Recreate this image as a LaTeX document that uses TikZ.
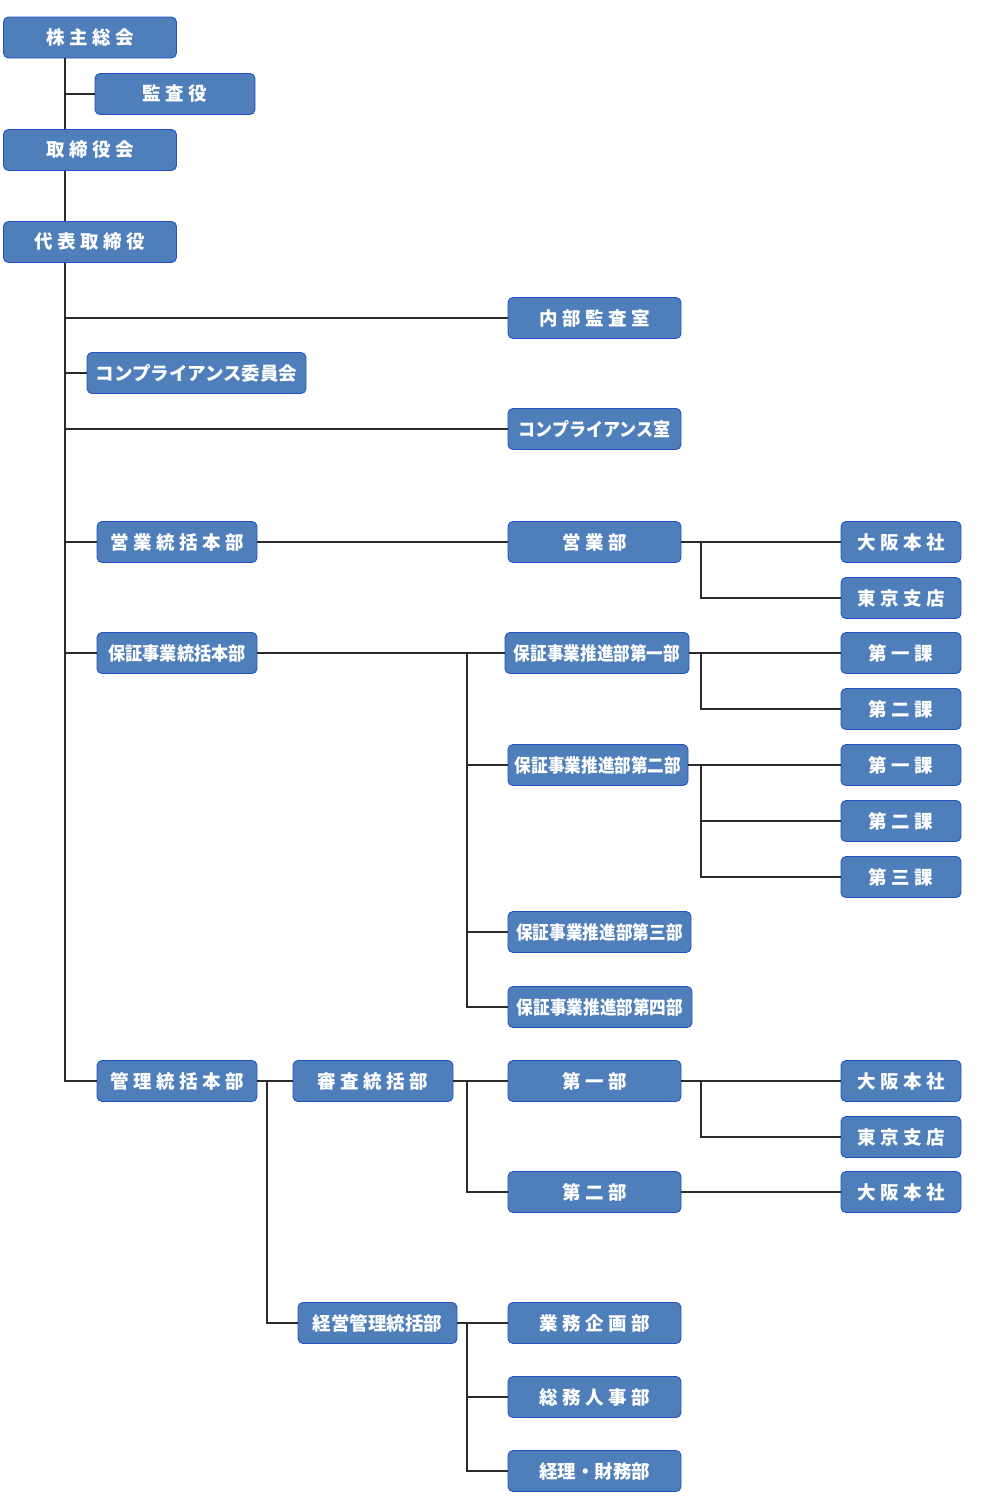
\documentclass[tikz,border=0pt]{standalone}
\usepackage{fontspec}
\usepackage{graphicx}
\newfontfamily\jp{Noto Sans CJK JP}
\definecolor{boxfill}{HTML}{4F7FBB}
\definecolor{boxline}{HTML}{2450C4}
\definecolor{conn}{HTML}{2B2B2B}
\newlength\lsgap
\let\lsend\relax
\def\ls#1#2{\setlength\lsgap{#1}\lsi#2\lsend}
\def\lsi#1#2{#1\ifx#2\lsend\else\hskip\lsgap\relax\expandafter\lsi\expandafter#2\fi}
\begin{document}
\begin{tikzpicture}[x=1pt,y=-1pt,
  box/.style={draw=boxline, fill=boxfill, rounded corners=5pt, line width=0.9pt,
    minimum height=41pt, inner sep=0pt, text=white,
    font=\jp\bfseries\fontsize{18.5}{20}\selectfont},
  wA/.style={minimum width=173pt},
  wB/.style={minimum width=160pt},
  wC/.style={minimum width=120pt},
  conline/.style={draw=conn, line width=1.1pt}]
\useasboundingbox (0,0) rectangle (1000,1507);
\coordinate (tx) at (65,0);
\coordinate (bA) at (701,0);
\coordinate (bB) at (467,0);
\coordinate (bC) at (267,0);
% nodes
\node[box,wA] (kabu) at (90,37.5) {\ls{4.5pt}{株主総会}};
\node[box,wB] (kansa) at (175,94) {\ls{4.5pt}{監査役}};
\node[box,wA] (tori) at (90,150) {\ls{4.5pt}{取締役会}};
\node[box,wA] (daihyo) at (90,242) {\ls{4.5pt}{代表取締役}};
\node[box,wA] (naibu) at (594.5,318) {\ls{4.5pt}{内部監査室}};
\node[box,minimum width=219pt] (compiin) at (196.5,373) {コンプライアンス委員会};
\node[box,wA] (compshitsu) at (594.5,429) {\scalebox{0.92}[1]{コンプライアンス室}};
\node[box,wB] (eigyo) at (177,542) {\ls{4.5pt}{営業統括本部}};
\node[box,wA] (eigyobu) at (594.5,542) {\ls{4.5pt}{営業部}};
\node[box,wC] (osaka1) at (901,542) {\ls{4.5pt}{大阪本社}};
\node[box,wC] (tokyo1) at (901,598) {\ls{4.5pt}{東京支店}};
\node[box,wB] (hosho) at (177,653) {\scalebox{0.93}[1]{保証事業統括本部}};
\node[box,minimum width=184pt] (h1) at (597,653) {\scalebox{0.9}[1]{保証事業推進部第一部}};
\node[box,wC] (k11) at (901,653) {\ls{4.5pt}{第一課}};
\node[box,wC] (k12) at (901,709) {\ls{4.5pt}{第二課}};
\node[box,minimum width=180pt] (h2) at (598,765) {\scalebox{0.9}[1]{保証事業推進部第二部}};
\node[box,wC] (k21) at (901,765) {\ls{4.5pt}{第一課}};
\node[box,wC] (k22) at (901,821) {\ls{4.5pt}{第二課}};
\node[box,wC] (k23) at (901,877) {\ls{4.5pt}{第三課}};
\node[box,minimum width=183pt] (h3) at (599.5,932) {\scalebox{0.9}[1]{保証事業推進部第三部}};
\node[box,minimum width=184pt] (h4) at (600,1007) {\scalebox{0.9}[1]{保証事業推進部第四部}};
\node[box,wB] (kanri) at (177,1081) {\ls{4.5pt}{管理統括本部}};
\node[box,wB] (shinsa) at (373,1081) {\ls{4.5pt}{審査統括部}};
\node[box,wA] (dai1) at (594.5,1081) {\ls{4.5pt}{第一部}};
\node[box,wC] (osaka2) at (901,1081) {\ls{4.5pt}{大阪本社}};
\node[box,wC] (tokyo2) at (901,1137) {\ls{4.5pt}{東京支店}};
\node[box,wA] (dai2) at (594.5,1192) {\ls{4.5pt}{第二部}};
\node[box,wC] (osaka3) at (901,1192) {\ls{4.5pt}{大阪本社}};
\node[box,minimum width=159pt] (keiei) at (377.5,1323) {経営管理統括部};
\node[box,wA] (gyomu) at (594.5,1323) {\ls{4.5pt}{業務企画部}};
\node[box,wA] (somu) at (594.5,1397) {\ls{4.5pt}{総務人事部}};
\node[box,wA] (keiri) at (594.5,1471) {経理・財務部};
% connectors
\draw[conline] (kabu.south -| tx) -- (tori.north -| tx);
\draw[conline] (kansa.west) -- (kansa.west -| tx);
\draw[conline] (tori.south -| tx) -- (daihyo.north -| tx);
\draw[conline] (daihyo.south -| tx) |- (kanri.west);
\draw[conline] (naibu.west) -- (naibu.west -| tx);
\draw[conline] (compiin.west) -- (compiin.west -| tx);
\draw[conline] (compshitsu.west) -- (compshitsu.west -| tx);
\draw[conline] (eigyo.west) -- (eigyo.west -| tx);
\draw[conline] (hosho.west) -- (hosho.west -| tx);
% eigyo
\draw[conline] (eigyo.east) -- (eigyobu.west);
\draw[conline] (eigyobu.east) -- (osaka1.west);
\draw[conline] (eigyobu.east -| bA) |- (tokyo1.west);
% hosho
\draw[conline] (hosho.east) -- (h1.west);
\draw[conline] (hosho.east -| bB) |- (h4.west);
\draw[conline] (h2.west) -- (h2.west -| bB);
\draw[conline] (h3.west) -- (h3.west -| bB);
\draw[conline] (h1.east) -- (k11.west);
\draw[conline] (h1.east -| bA) |- (k12.west);
\draw[conline] (h2.east) -- (k21.west);
\draw[conline] (h2.east -| bA) |- (k23.west);
\draw[conline] (k22.west) -- (k22.west -| bA);
% kanri
\draw[conline] (kanri.east) -- (shinsa.west);
\draw[conline] (kanri.east -| bC) |- (keiei.west);
\draw[conline] (shinsa.east) -- (dai1.west);
\draw[conline] (shinsa.east -| bB) |- (dai2.west);
\draw[conline] (dai1.east) -- (osaka2.west);
\draw[conline] (dai1.east -| bA) |- (tokyo2.west);
\draw[conline] (dai2.east) -- (osaka3.west);
\draw[conline] (keiei.east) -- (gyomu.west);
\draw[conline] (keiei.east -| bB) |- (keiri.west);
\draw[conline] (somu.west) -- (somu.west -| bB);
\end{tikzpicture}
\end{document}
